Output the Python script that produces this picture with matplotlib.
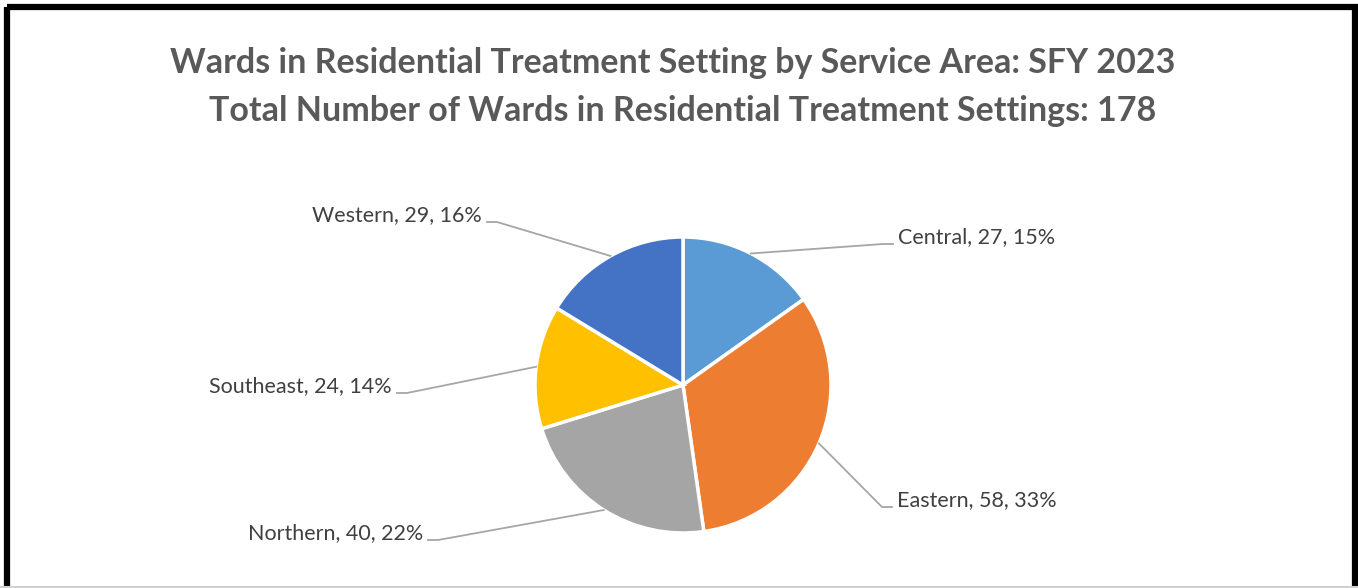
import numpy as np
import matplotlib.pyplot as plt
from matplotlib.patches import Rectangle

# data
areas = ["Central", "Eastern", "Northern", "Southeast", "Western"]
wards = [27, 58, 40, 24, 29]
percents = [15, 33, 22, 14, 16]
colors = ["#5b9bd5", "#ed7d31", "#a5a5a5", "#ffc000", "#4472c4"]
title_lines = ["Wards in Residential Treatment Setting by Service Area: SFY 2023",
               "Total Number of Wards in Residential Treatment Settings: 178"]

# label placement (pixels): text anchor x, y and side
label_pos = [(898, 237, "left"), (897, 500, "left"), (423, 533, "right"),
             (392, 386, "right"), (482, 215, "right")]

W, H = 1358, 588
fig = plt.figure(figsize=(W / 100, H / 100), dpi=100)
ax = fig.add_axes([0, 0, 1, 1])

cx, cy, r = 683, 385, 148
wedges, _ = ax.pie(wards, colors=colors, startangle=-90, counterclock=True,
                   center=(cx, cy), radius=r, frame=True,
                   wedgeprops=dict(edgecolor="white", linewidth=2.5))
ax.set_xlim(0, W)
ax.set_ylim(H, 0)
ax.axis("off")

for w, name, n, pct, (tx, ty, ha) in zip(wedges, areas, wards, percents, label_pos):
    ax.text(tx, ty, f"{name}, {n}, {pct}%", ha=ha, va="center",
            fontsize=15.5, color="#404040", family="Lato")
    mid = np.deg2rad((w.theta1 + w.theta2) / 2)
    ax0, ay0 = cx + r * np.cos(mid), cy + r * np.sin(mid)
    s = 1 if ha == "left" else -1
    ly = ty + 7
    ax.plot([ax0, tx - s * 15, tx - s * 5], [ay0, ly, ly], color="#a6a6a6", lw=1.3)

for line, x, y in zip(title_lines, [673, 683], [63, 111]):
    ax.text(x, y, line, ha="center", va="center", fontsize=24.5,
            fontweight="bold", color="#595959", family="Lato")

# frame around the chart
ax.add_patch(Rectangle((7, 7), W - 10, H + 10, fill=False, edgecolor="black",
                       lw=4.5, clip_on=False))
ax.plot([0, W], [587, 587], color="#d0d0d0", lw=1.5)

fig.savefig("out.png", dpi=100)
